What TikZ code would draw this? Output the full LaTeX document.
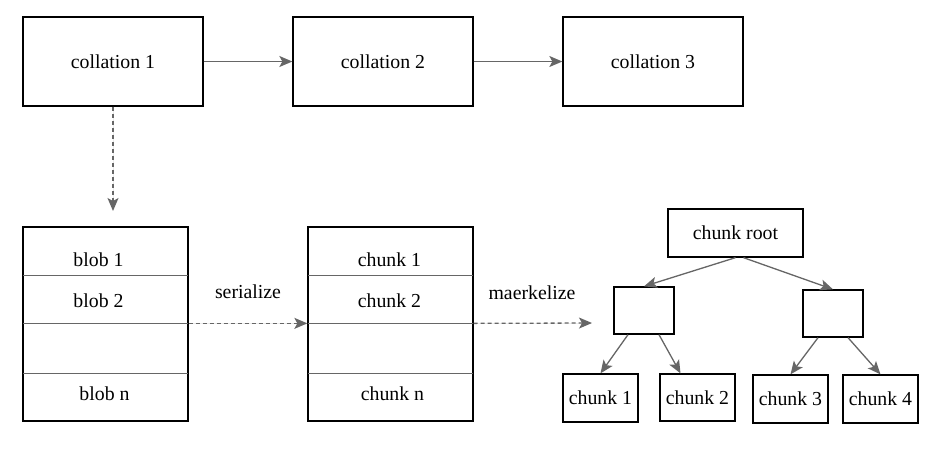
\documentclass[tikz,border=0pt]{standalone}
\usepackage{fontspec}
\setmainfont{Liberation Serif}
\usetikzlibrary{arrows.meta,calc}
\definecolor{linegray}{RGB}{102,102,102}
\tikzset{
box/.style={draw=black, line width=1.3pt, fill=white, inner sep=0pt, font=\fontsize{19.8}{23}\selectfont},
sepline/.style={draw=linegray, line width=1.2pt},
flowarrow/.style={-{Stealth[length=13pt,width=11pt,inset=3pt]}, line width=1.3pt, draw=linegray, fill=linegray},
dasharrow/.style={flowarrow, dash pattern=on 4pt off 3pt},
labeltext/.style={font=\fontsize{19.8}{23}\selectfont, inner sep=0pt}
}
\begin{document}
\begin{tikzpicture}[x=1pt,y=-1pt]
\useasboundingbox (0,0) rectangle (936,448);

% collations
\node[box, minimum width=180, minimum height=89] (col1) at (113,61.5) {\raisebox{-1.5pt}{collation 1}};
\node[box, minimum width=180, minimum height=89] (col2) at (383,61.5) {\raisebox{-1.5pt}{collation 2}};
\node[box, minimum width=180, minimum height=89] (col3) at (653,61.5) {\raisebox{-1.5pt}{collation 3}};

\draw[flowarrow] (col1) -- (col2);
\draw[flowarrow] (col2) -- (col3);

\coordinate (blobtop) at (113,211);
\draw[dasharrow] (col1.south) -- (blobtop);

% blobs
\node[box, minimum width=165, minimum height=194] (blobs) at (105.5,324) {};
\foreach \dy in {49,97,147} {
  \draw[sepline] ($(blobs.north west)+(0.7,\dy)$) -- ($(blobs.north east)+(-0.7,\dy)$);
}
\node[labeltext] (blob1) at (98.5,259.5) {blob 1};
\node[labeltext] (blob2) at (98.5,300.5) {blob 2};
\node[labeltext] (blobn) at (104.5,394) {blob n};

% chunks
\node[box, minimum width=165, minimum height=194] (chunks) at (390.5,324) {};
\foreach \dy in {49,97,147} {
  \draw[sepline] ($(chunks.north west)+(0.7,\dy)$) -- ($(chunks.north east)+(-0.7,\dy)$);
}
\node[labeltext] (chunk1) at (389.5,259.5) {chunk 1};
\node[labeltext] (chunk2) at (389.5,300.5) {chunk 2};
\node[labeltext] (chunkn) at (392.5,394) {chunk n};

\coordinate (bsep) at ($(blobs.north east)+(0,97)$);
\coordinate (csepw) at ($(chunks.north west)+(0,97)$);
\coordinate (csepe) at ($(chunks.north east)+(0,97)$);
\coordinate (treein) at (592,323);

\draw[dasharrow] (bsep) -- (csepw);
\node[labeltext] (serial) at (248,292) {serialize};
\draw[dasharrow] (csepe) -- (treein);
\node[labeltext] (merkle) at (532,293) {maerkelize};

% tree
\node[box, minimum width=135, minimum height=48] (root) at (735.5,233) {\raisebox{-1.5pt}{chunk root}};
\node[box, minimum width=60, minimum height=47] (left) at (644,310.5) {};
\node[box, minimum width=60, minimum height=47] (right) at (833,313.5) {};
\node[box, minimum width=75, minimum height=48] (leaf1) at (600.5,398) {chunk 1};
\node[box, minimum width=75, minimum height=47] (leaf2) at (697.5,397.5) {chunk 2};
\node[box, minimum width=75, minimum height=48] (leaf3) at (790.5,399) {chunk 3};
\node[box, minimum width=75, minimum height=48] (leaf4) at (880.5,399) {chunk 4};

\draw[flowarrow] (root.south) -- (left.north);
\draw[flowarrow] ([xshift=8pt]root.south) -- (right.north);
\draw[flowarrow] ([xshift=-16pt]left.south) -- (leaf1.north);
\draw[flowarrow] ([xshift=15pt]left.south) -- ([xshift=-17pt]leaf2.north);
\draw[flowarrow] ([xshift=-15pt]right.south) -- (leaf3.north);
\draw[flowarrow] ([xshift=15pt]right.south) -- (leaf4.north);

\end{tikzpicture}
\end{document}
